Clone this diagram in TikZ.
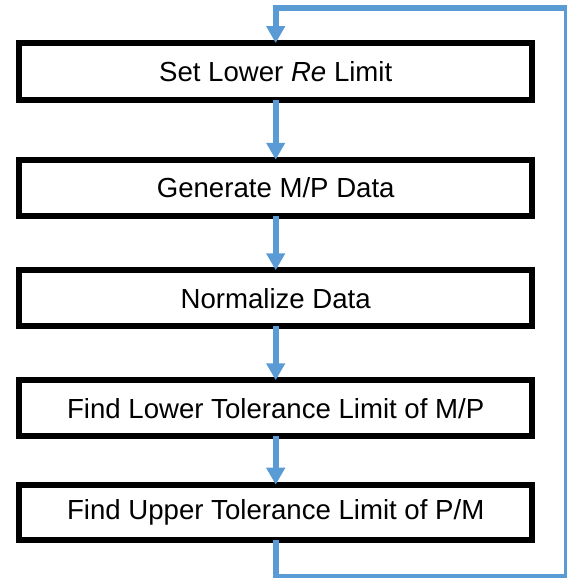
\documentclass[tikz,border=0pt]{standalone}
\usepackage{fontspec}
\setmainfont{Liberation Sans}
\usetikzlibrary{arrows.meta}
\definecolor{flowblue}{HTML}{5B9BD5}
\tikzset{
  stepbox/.style={draw=black, line width=6pt, fill=white, outer sep=0pt, inner sep=0pt,
    minimum width=513.3pt, minimum height=56.5pt,
    font=\fontsize{27.6}{33}\selectfont},
  flow/.style={draw=flowblue, line width=5.6pt, line join=miter,
    -{Triangle[width=18pt,length=17pt]}},
  loopline/.style={draw=flowblue, line width=5.6pt, line join=miter}
}
\begin{document}
\begin{tikzpicture}[x=1pt,y=1pt]
\useasboundingbox (0,0) rectangle (567,-578);
\node[stepbox] (b1) at (275.7,-71.35) {Set Lower \textit{Re} Limit};
\node[stepbox] (b2) at (275.7,-188) {Generate M/P Data};
\node[stepbox, minimum height=56pt] (b3) at (275.7,-298.3) {Normalize Data};
\node[stepbox, minimum height=56pt] (b4) at (275.7,-408.3) {Find Lower Tolerance Limit of M/P};
\node[stepbox, minimum height=55pt] (b5) at (275.7,-512.2) {Find Upper Tolerance Limit of P/M};
\coordinate (br) at (567,-577);
\coordinate (tr) at (567,-8);
\draw[flow] (b1.south) -- (b2.north);
\draw[flow] (b2.south) -- (b3.north);
\draw[flow] (b3.south) -- (b4.north);
\draw[flow] (b4.south) -- (b5.north);
\draw[flow] (b5.south) |- (br) -- (tr) -| (b1.north);
\end{tikzpicture}
\end{document}
